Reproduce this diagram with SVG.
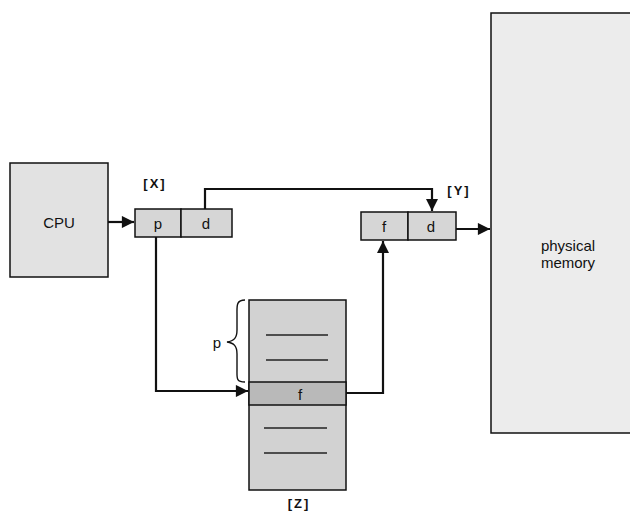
<svg xmlns="http://www.w3.org/2000/svg" width="630" height="515" viewBox="0 0 630 515">
<defs>
<style>
.box{stroke:#111;stroke-width:1.5}
.lbl{font-family:"Liberation Sans",Arial,sans-serif;font-size:15px;fill:#111;text-anchor:middle}
.tag{font-family:"Liberation Sans",Arial,sans-serif;font-size:13px;font-weight:bold;fill:#111;text-anchor:middle;letter-spacing:2px}
.wire{fill:none;stroke:#111;stroke-width:2.2}
.rule{stroke:#222;stroke-width:1.5}
</style>
<marker id="ah" viewBox="0 0 10 10" refX="10" refY="5" markerWidth="6" markerHeight="5.5" markerUnits="strokeWidth" orient="auto">
<path d="M0,0 L10,5 L0,10 z" fill="#111"/>
</marker>
</defs>
<rect width="630" height="515" fill="#fff"/>

<g id="cpu">
<rect class="box" x="10" y="163" width="98" height="114" fill="#e2e2e2"/>
<text class="lbl" x="59" y="228">CPU</text>
</g>

<g id="logical-address">
<text class="tag" x="155" y="188">[X]</text>
<rect class="box" x="135" y="209" width="46" height="28" fill="#d6d6d6"/>
<rect class="box" x="181" y="209" width="51" height="28" fill="#d6d6d6"/>
<text class="lbl" x="158" y="229" font-size="16">p</text>
<text class="lbl" x="206" y="229" font-size="16">d</text>
</g>

<g id="physical-address">
<text class="tag" x="459" y="195">[Y]</text>
<rect class="box" x="361" y="212" width="47" height="28" fill="#d6d6d6"/>
<rect class="box" x="408" y="212" width="48" height="28" fill="#d6d6d6"/>
<text class="lbl" x="384" y="232" font-size="16">f</text>
<text class="lbl" x="431" y="232" font-size="16">d</text>
</g>

<g id="physical-memory">
<rect class="box" x="491" y="13" width="145" height="420" fill="#ececec"/>
<text class="lbl" x="568" y="251" font-size="14">physical</text>
<text class="lbl" x="568" y="268" font-size="14">memory</text>
</g>

<g id="page-table">
<rect class="box" x="249" y="300" width="97" height="190" fill="#d2d2d2"/>
<rect class="box" x="249" y="382" width="97" height="23" fill="#b9b9b9"/>
<text class="lbl" x="300" y="400" font-size="16">f</text>
<line class="rule" x1="266" y1="335" x2="328" y2="335"/>
<line class="rule" x1="266" y1="360" x2="328" y2="360"/>
<line class="rule" x1="264" y1="428" x2="327" y2="428"/>
<line class="rule" x1="264" y1="453" x2="327" y2="453"/>
<path d="M245,300 C236,300 237,306 237,314 L237,330 C237,338 234,341 227,342 C234,343 237,346 237,354 L237,370 C237,378 236,382 245,382" fill="none" stroke="#111" stroke-width="1.4"/>
<text class="lbl" x="217" y="348" font-size="16">p</text>
<text class="tag" x="299" y="508">[Z]</text>
</g>

<g id="connectors">
<line class="wire" x1="108" y1="222" x2="134" y2="222" marker-end="url(#ah)"/>
<polyline class="wire" points="205,209 205,189 432,189 432,211" marker-end="url(#ah)"/>
<polyline class="wire" points="156,237 156,391 248,391" marker-end="url(#ah)"/>
<polyline class="wire" points="346,393 383,393 383,241" marker-end="url(#ah)"/>
<line class="wire" x1="456" y1="229" x2="490" y2="229" marker-end="url(#ah)"/>
</g>
</svg>
